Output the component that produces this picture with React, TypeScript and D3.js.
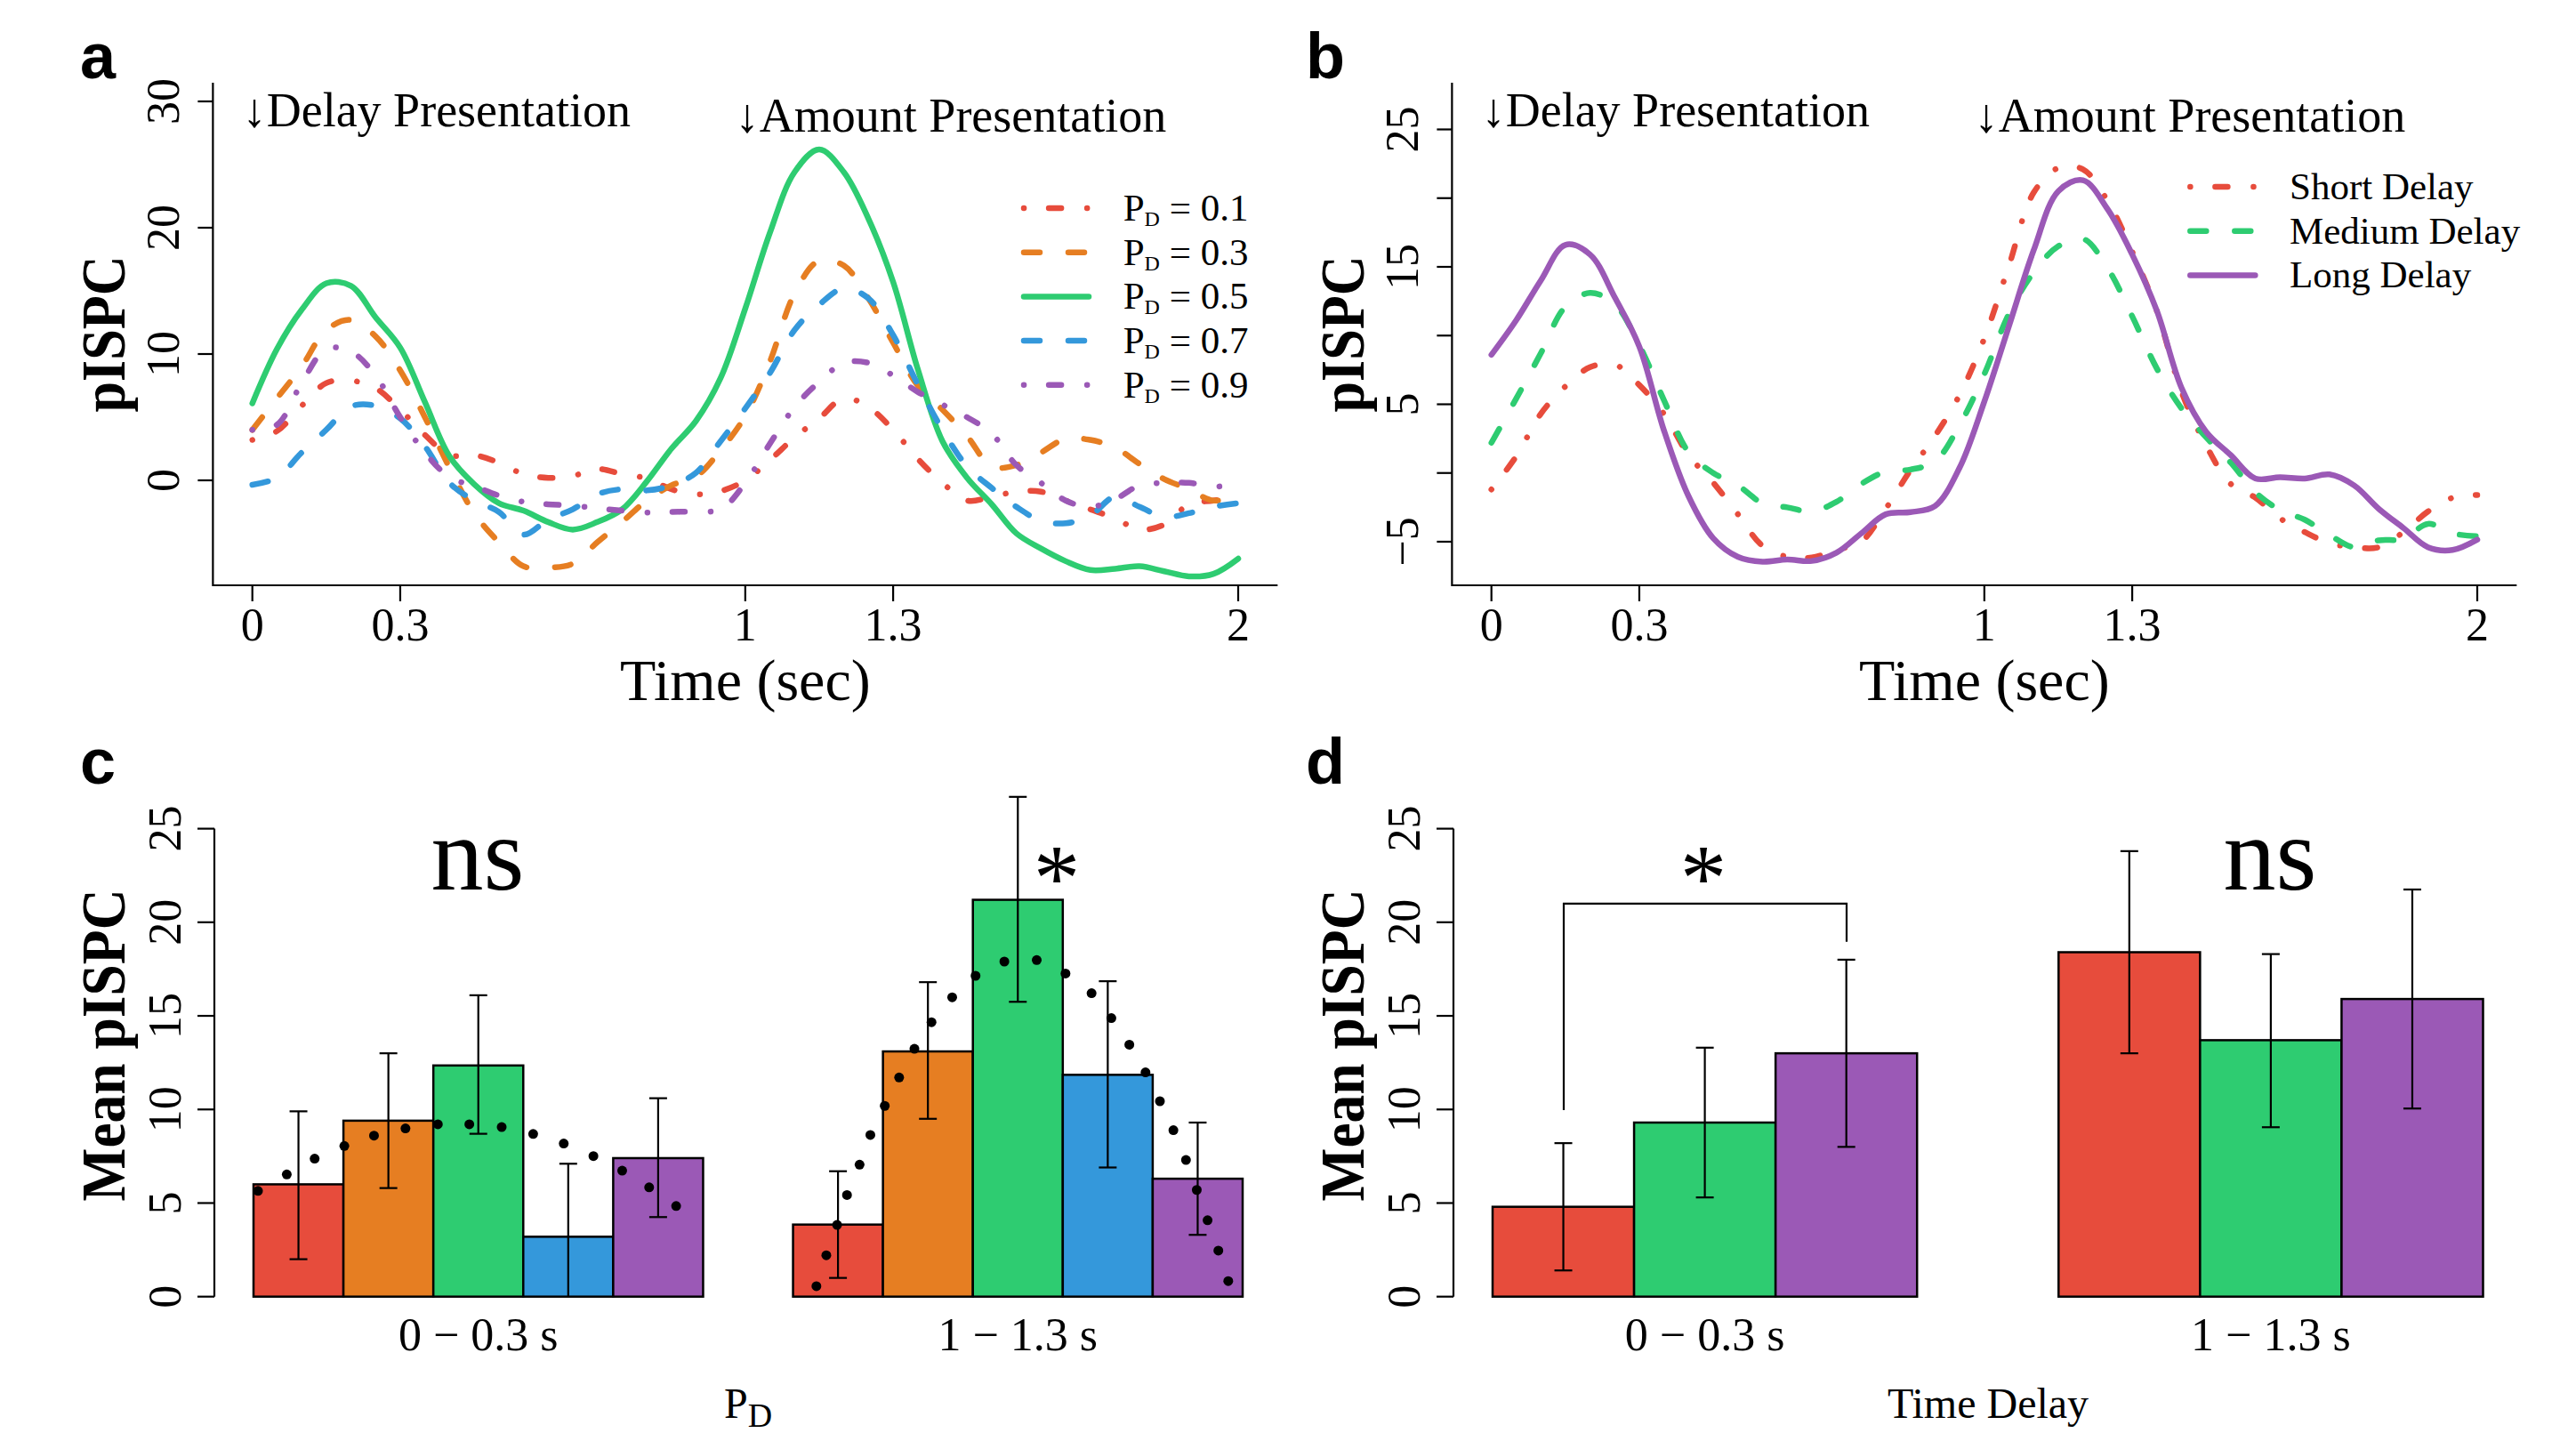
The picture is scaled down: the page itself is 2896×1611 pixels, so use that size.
import React from 'react';
import * as d3 from 'd3';

const SERIF = '"Liberation Serif", "Times New Roman", Times, serif';
const SANS = '"Liberation Sans", Arial, Helvetica, sans-serif';

const RED = '#E74C3C';
const ORANGE = '#E67E22';
const GREEN = '#2ECC71';
const BLUE = '#3498DB';
const PURPLE = '#9B59B6';

// ---- panels a / b : pISPC time courses (sampled every 50 ms) ----
const timeSec = [0, 0.05, 0.1, 0.15, 0.2, 0.25, 0.3, 0.35, 0.4, 0.45, 0.5, 0.55, 0.6, 0.65, 0.7, 0.75,
  0.8, 0.85, 0.9, 0.95, 1, 1.05, 1.1, 1.15, 1.2, 1.25, 1.3, 1.35, 1.4, 1.45, 1.5, 1.55, 1.6, 1.65,
  1.7, 1.75, 1.8, 1.85, 1.9, 1.95, 2];

const pd01 = [3.2, 3.9, 5.9, 7.7, 7.9, 7.3, 5.6, 3.6, 2.0, 2.0, 1.4, 0.5, 0.2, 0.35, 0.9, 0.5, 0.15, -0.7,
  -1.1, -0.85, 0.0, 1.6, 3.4, 4.9, 6.5, 5.8, 4.0, 1.7, -0.2, -1.6, -1.3, -0.9, -0.9, -1.6, -2.3, -3.0,
  -3.9, -3.5, -1.9, -1.6, -1.3];
const pd03 = [4.0, 6.5, 9.0, 11.9, 12.7, 11.4, 8.7, 5.0, 1.0, -2.6, -4.9, -6.8, -6.9, -6.6, -4.9, -3.3,
  -1.6, -0.4, 0.3, 2.4, 5.1, 9.4, 14.8, 17.4, 17.0, 14.4, 10.9, 7.5, 5.6, 3.5, 1.1, 1.2, 2.2, 3.3, 3.2,
  2.6, 1.3, 0.1, -0.7, -1.6, -1.2];
const pd05 = [6.1, 10.4, 13.5, 15.6, 15.4, 12.9, 10.5, 6.2, 1.9, -0.3, -1.8, -2.4, -3.3, -3.9, -3.3, -2.3,
  -0.1, 2.5, 4.7, 8.1, 13.6, 19.6, 24.4, 26.2, 24.4, 20.7, 15.7, 8.8, 3.1, 0.2, -1.9, -4.2, -5.4, -6.4,
  -7.1, -7.0, -6.8, -7.2, -7.6, -7.4, -6.2];
const pd07 = [-0.35, 0.2, 2.2, 4.0, 5.85, 5.9, 4.9, 2.7, -0.2, -1.6, -2.5, -4.3, -3.1, -2.3, -1.1, -0.7,
  -0.8, -0.4, 0.6, 3.1, 5.7, 8.5, 11.9, 13.9, 15.2, 14.4, 11.5, 7.6, 4.0, 1.1, -0.6, -2.1, -3.2, -3.4,
  -2.8, -1.3, -2.1, -2.9, -2.6, -2.1, -1.8];
const pd09 = [4.0, 4.4, 7.7, 10.4, 10.2, 8.3, 5.0, 2.2, 0.25, -0.45, -1.2, -1.7, -1.9, -2.0, -2.2, -2.4,
  -2.55, -2.5, -2.46, -2.3, -0.2, 2.9, 5.8, 7.8, 9.3, 9.3, 8.3, 7.0, 6.0, 5.0, 3.7, 1.2, -0.2, -1.6, -2.1,
  -1.5, -0.4, -0.2, -0.2, -0.5, -0.3];

const shortDelay = [-1.2, 1.2, 4.3, 6.3, 7.7, 7.9, 6.4, 4.3, 1.3, -0.7, -3.0, -5.3, -6.1, -6.15, -5.6,
  -5.0, -2.6, 0.2, 2.7, 5.7, 9.8, 15.1, 20.4, 22.2, 22.1, 19.8, 16.1, 11.8, 5.9, 2.0, -0.8, -1.8, -3.3,
  -4.3, -5.1, -5.4, -5.4, -4.3, -2.8, -1.8, -1.6];
const mediumDelay = [2.2, 5.4, 8.7, 12.1, 13.1, 12.3, 9.3, 5.3, 1.5, 0.0, -0.9, -2.2, -2.5, -2.8, -2.1,
  -0.8, 0.1, 0.25, 0.85, 3.5, 7.2, 11.6, 14.6, 16.5, 17.05, 14.9, 11.4, 7.6, 4.7, 2.6, 0.75, -1.4, -2.7,
  -3.4, -4.5, -5.4, -4.9, -4.8, -3.7, -4.4, -4.6];
const longDelay = [8.6, 11.1, 14.0, 16.6, 15.9, 12.8, 9.2, 3.1, -1.7, -4.75, -6.1, -6.45, -6.3, -6.4,
  -5.8, -4.4, -3.0, -2.85, -2.4, 0.4, 5.2, 10.7, 16.2, 20.5, 21.3, 19.2, 15.9, 11.8, 6.2, 3.0, 1.3, -0.4,
  -0.3, -0.4, -0.1, -0.9, -2.6, -4.0, -5.4, -5.6, -4.85];

const timeTicks = [0, 0.3, 1, 1.3, 2];
const ticksA = [0, 10, 20, 30];
const ticksB = [-5, 0, 5, 10, 15, 20, 25];
const labelsB = [-5, 5, 15, 25];

const pdLabels = ['0.1', '0.3', '0.5', '0.7', '0.9'];
const delayLabels = ['Short Delay', 'Medium Delay', 'Long Delay'];

// ---- panels c / d : mean pISPC per window ----
const windowLabels = ['0 \u2212 0.3 s', '1 \u2212 1.3 s'];
const meanTicks = [0, 5, 10, 15, 20, 25];

const pdMeanEarly = [6.0, 9.4, 12.35, 3.2, 7.4];
const pdLowEarly = [2.0, 5.8, 8.7, -0.7, 4.25];
const pdHighEarly = [9.9, 13.0, 16.1, 7.1, 10.6];
const pdMeanLate = [3.85, 13.1, 21.2, 11.85, 6.3];
const pdLowLate = [1.0, 9.5, 15.75, 6.9, 3.3];
const pdHighLate = [6.7, 16.8, 26.7, 16.85, 9.3];

// fitted trend (dotted) across the five P_D bars, position in bar widths from group start
const fitEarlyPos = [0.05, 0.37, 0.68, 1.01, 1.34, 1.69, 2.05, 2.4, 2.76, 3.11, 3.45, 3.78, 4.1, 4.4, 4.7];
const fitEarlyVal = [5.65, 6.53, 7.37, 8.05, 8.6, 8.99, 9.21, 9.21, 9.06, 8.69, 8.18, 7.51, 6.73, 5.84, 4.84];
const fitLatePos = [0.26, 0.37, 0.49, 0.6, 0.74, 0.86, 1.02, 1.18, 1.35, 1.54, 1.77, 2.03, 2.35, 2.71,
  3.03, 3.32, 3.54, 3.74, 3.92, 4.08, 4.23, 4.37, 4.49, 4.61, 4.73, 4.84];
const fitLateVal = [0.56, 2.21, 3.83, 5.43, 7.05, 8.64, 10.19, 11.71, 13.24, 14.66, 15.99, 17.14, 17.9,
  17.98, 17.26, 16.21, 14.88, 13.46, 11.98, 10.44, 8.89, 7.3, 5.7, 4.08, 2.46, 0.83];

const delayMeanEarly = [4.8, 9.3, 13.0];
const delayLowEarly = [1.4, 5.3, 8.0];
const delayHighEarly = [8.2, 13.3, 18.0];
const delayMeanLate = [18.4, 13.7, 15.9];
const delayLowLate = [13.0, 9.05, 10.05];
const delayHighLate = [23.8, 18.3, 21.75];

const DOTDASH = '0.1 28 14 29';
const DASHED = '18 32';
const LW = 6.5;

type Series = { values: number[]; color: string; dash?: string };

function LinePanel(props: {
  x0: number; yDomain: [number, number]; yRange: [number, number]; yTicks: number[]; yLabels: number[];
  series: Series[]; legendText: React.ReactNode[]; legendX: number; legendY: number; textX: number;
}) {
  const { x0, yDomain, yRange, yTicks, yLabels, series, legendText, legendX, legendY, textX } = props;
  const x = d3.scaleLinear().domain([0, 2]).range([x0, x0 + 1108.3]);
  const y = d3.scaleLinear().domain(yDomain).range(yRange);
  const top = 93, bottom = 658;
  const left = x(-0.08), right = x(2.08);
  const line = d3.line<number>()
    .x((_, i) => x(timeSec[i]))
    .y(d => y(d))
    .curve(d3.curveCatmullRom.alpha(0.5));
  const fmt = (v: number) => (v < 0 ? '\u2212' + Math.abs(v) : String(v));
  return (
    <g>
      <path d={`M${left},${top}V${bottom}H${right}`} fill="none" stroke="#000" strokeWidth={2.2} />
      {yTicks.map(t => (
        <line key={t} x1={left - 17} x2={left} y1={y(t)} y2={y(t)} stroke="#000" strokeWidth={2.2} />
      ))}
      {yLabels.map(t => (
        <text key={t} transform={`translate(${left - 38},${y(t)}) rotate(-90)`} textAnchor="middle"
          fontSize={52} fontFamily={SERIF}>{fmt(t)}</text>
      ))}
      {timeTicks.map(t => (
        <g key={t}>
          <line x1={x(t)} x2={x(t)} y1={bottom} y2={bottom + 18} stroke="#000" strokeWidth={2.2} />
          <text x={x(t)} y={720} textAnchor="middle" fontSize={52} fontFamily={SERIF}>{t}</text>
        </g>
      ))}
      <text x={x(1)} y={787} textAnchor="middle" fontSize={66} fontFamily={SERIF}>Time (sec)</text>
      <text transform={`translate(${left - 99},${(top + bottom) / 2}) rotate(-90)`} textAnchor="middle"
        fontSize={70} fontWeight="bold" fontFamily={SERIF} textLength={176} lengthAdjust="spacingAndGlyphs">pISPC</text>
      <text x={x(0) - 11} y={142} fontSize={54} fontFamily={SERIF}>{'\u2193Delay Presentation'}</text>
      <text x={x(1) - 11} y={148} fontSize={54} fontFamily={SERIF}>{'\u2193Amount Presentation'}</text>
      {series.map((s, i) => (
        <path key={i} d={line(s.values) || ''} fill="none" stroke={s.color} strokeWidth={LW}
          strokeDasharray={s.dash} strokeLinecap="round" strokeLinejoin="round" />
      ))}
      {series.map((s, i) => {
        const ry = legendY + i * 49.7;
        return (
          <g key={'lg' + i}>
            <line x1={legendX} x2={legendX + 73} y1={ry} y2={ry} stroke={s.color} strokeWidth={LW}
              strokeDasharray={s.dash} strokeLinecap="round" />
            <text x={textX} y={ry + 14} fontSize={43} fontFamily={SERIF}>{legendText[i]}</text>
          </g>
        );
      })}
    </g>
  );
}

function BarPanel(props: {
  axisX: number; xRange: [number, number]; nBars: number; colors: string[];
  means: number[][]; lows: number[][]; highs: number[][]; xTitle: React.ReactNode; xTitleX: number;
  fits?: { pos: number[]; val: number[] }[];
}) {
  const { axisX, xRange, nBars, colors, means, lows, highs, xTitle, xTitleX, fits } = props;
  const y = d3.scaleLinear().domain([0, 25]).range([1457.7, 931.6]);
  const x = d3.scaleLinear().domain([1, 1 + 2 * nBars + 1]).range(xRange);
  const groupStart = (g: number) => 1 + g * (nBars + 1);
  const cap = 10;
  return (
    <g>
      <line x1={axisX} x2={axisX} y1={y(0)} y2={y(25)} stroke="#000" strokeWidth={2.2} />
      {meanTicks.map(t => (
        <g key={t}>
          <line x1={axisX - 19} x2={axisX} y1={y(t)} y2={y(t)} stroke="#000" strokeWidth={2.2} />
          <text transform={`translate(${axisX - 38},${y(t)}) rotate(-90)`} textAnchor="middle"
            fontSize={52} fontFamily={SERIF}>{t}</text>
        </g>
      ))}
      <text transform={`translate(${axisX - 101},1175) rotate(-90)`} textAnchor="middle" fontSize={70}
        fontWeight="bold" fontFamily={SERIF} textLength={351} lengthAdjust="spacingAndGlyphs">Mean pISPC</text>
      {means.map((grp, g) => (
        <g key={g}>
          {grp.map((m, i) => (
            <rect key={i} x={x(groupStart(g) + i)} width={x(2) - x(1)} y={y(m)} height={y(0) - y(m)}
              fill={colors[i]} stroke="#000" strokeWidth={2.5} />
          ))}
          {grp.map((_, i) => {
            const cx = x(groupStart(g) + i + 0.5);
            const lo = lows[g][i], hi = highs[g][i];
            return (
              <g key={'e' + i} stroke="#000" strokeWidth={2.2}>
                <line x1={cx} x2={cx} y1={y(Math.max(lo, 0))} y2={y(hi)} />
                <line x1={cx - cap} x2={cx + cap} y1={y(hi)} y2={y(hi)} />
                {lo >= 0 && <line x1={cx - cap} x2={cx + cap} y1={y(lo)} y2={y(lo)} />}
              </g>
            );
          })}
          {fits && fits[g].pos.map((p, k) => (
            <circle key={'f' + k} cx={x(groupStart(g) + p)} cy={y(fits[g].val[k])} r={5.5} fill="#000" />
          ))}
          <text x={x(groupStart(g) + nBars / 2)} y={1518} textAnchor="middle" fontSize={52}
            fontFamily={SERIF}>{windowLabels[g]}</text>
        </g>
      ))}
      <text x={xTitleX} y={1594} textAnchor="middle" fontSize={48} fontFamily={SERIF}>{xTitle}</text>
    </g>
  );
}

const pdText = (v: string) => (
  <>P<tspan dy={6} fontSize={24}>D</tspan><tspan dy={-6}>{' = ' + v}</tspan></>
);

export default function App() {
  const pdColors = [RED, ORANGE, GREEN, BLUE, PURPLE];
  const seriesA: Series[] = [
    { values: pd01, color: RED, dash: DOTDASH },
    { values: pd03, color: ORANGE, dash: DASHED },
    { values: pd05, color: GREEN },
    { values: pd07, color: BLUE, dash: DASHED },
    { values: pd09, color: PURPLE, dash: DOTDASH },
  ];
  const seriesB: Series[] = [
    { values: shortDelay, color: RED, dash: DOTDASH },
    { values: mediumDelay, color: GREEN, dash: DASHED },
    { values: longDelay, color: PURPLE },
  ];
  return (
    <svg width={2896} height={1611} style={{ position: 'absolute', left: 0, top: 0, background: '#fff' }}>
      <LinePanel x0={283.7} yDomain={[0, 30]} yRange={[540, 114]} yTicks={ticksA} yLabels={ticksA}
        series={seriesA} legendText={pdLabels.map(pdText)} legendX={1151} legendY={234} textX={1262.7} />
      <LinePanel x0={1676.7} yDomain={[-5, 25]} yRange={[609, 145.5]} yTicks={ticksB} yLabels={labelsB}
        series={seriesB} legendText={delayLabels} legendX={2462.3} legendY={210} textX={2574} />

      <BarPanel axisX={241} xRange={[285, 1397]} nBars={5} colors={pdColors}
        means={[pdMeanEarly, pdMeanLate]} lows={[pdLowEarly, pdLowLate]} highs={[pdHighEarly, pdHighLate]}
        fits={[{ pos: fitEarlyPos, val: fitEarlyVal }, { pos: fitLatePos, val: fitLateVal }]}
        xTitle={<>P<tspan dy={10} fontSize={38}>D</tspan></>} xTitleX={841} />
      <BarPanel axisX={1634} xRange={[1678, 2791.5]} nBars={3} colors={[RED, GREEN, PURPLE]}
        means={[delayMeanEarly, delayMeanLate]} lows={[delayLowEarly, delayLowLate]}
        highs={[delayHighEarly, delayHighLate]} xTitle="Time Delay" xTitleX={2235} />

      {/* significance marks */}
      <text x={537} y={1000} textAnchor="middle" fontSize={118} fontFamily={SERIF}>ns</text>
      <text x={1188} y={1023} textAnchor="middle" fontSize={105} fontFamily={SERIF}>*</text>
      <text x={2552} y={1000} textAnchor="middle" fontSize={118} fontFamily={SERIF}>ns</text>
      <text x={1915} y={1023} textAnchor="middle" fontSize={105} fontFamily={SERIF}>*</text>
      <path d={`M1758,1247.9V1015.9H2076V1058.7`} fill="none" stroke="#000" strokeWidth={2.2} />

      {/* panel letters */}
      <text x={90} y={88} fontSize={72} fontWeight="bold" fontFamily={SANS}>a</text>
      <text x={1468} y={88} fontSize={72} fontWeight="bold" fontFamily={SANS}>b</text>
      <text x={90} y={881} fontSize={72} fontWeight="bold" fontFamily={SANS}>c</text>
      <text x={1468} y={881} fontSize={72} fontWeight="bold" fontFamily={SANS}>d</text>
    </svg>
  );
}
